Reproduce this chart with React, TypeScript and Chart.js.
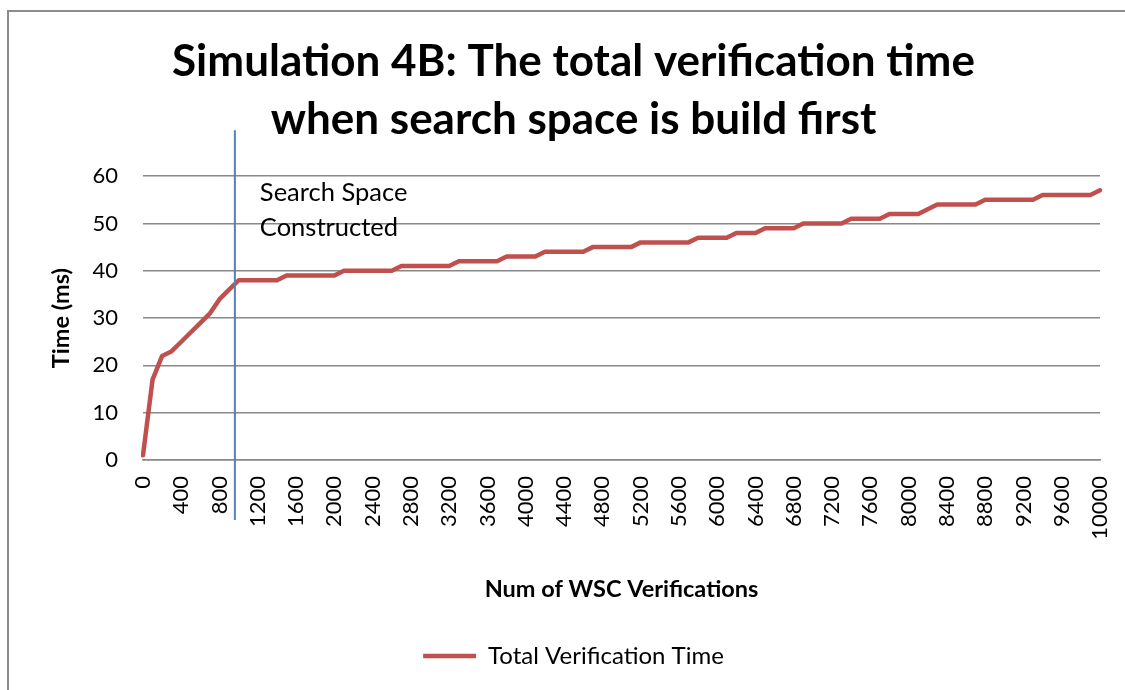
import React, { useEffect, useRef } from 'react';
import { Chart, registerables } from 'chart.js';

Chart.register(...registerables);

const TITLE_LINES = ['Simulation 4B: The total verification time', 'when search space is build first'];
const Y_TITLE = 'Time (ms)';
const X_TITLE = 'Num of WSC Verifications';
const SERIES_LABEL = 'Total Verification Time';
const ANNOTATION_LINES = ['Search Space', 'Constructed'];

// Total verification time (ms) at each 100-verification step, 0..10000
const timeValues = [
  1, 17, 22, 23, 25, 27, 29, 31, 34, 36,
  38, 38, 38, 38, 38,
  39, 39, 39, 39, 39, 39,
  40, 40, 40, 40, 40, 40,
  41, 41, 41, 41, 41, 41,
  42, 42, 42, 42, 42,
  43, 43, 43, 43,
  44, 44, 44, 44, 44,
  45, 45, 45, 45, 45,
  46, 46, 46, 46, 46, 46,
  47, 47, 47, 47,
  48, 48, 48,
  49, 49, 49, 49,
  50, 50, 50, 50, 50,
  51, 51, 51, 51,
  52, 52, 52, 52,
  53,
  54, 54, 54, 54, 54,
  55, 55, 55, 55, 55, 55,
  56, 56, 56, 56, 56, 56,
  57,
];

const categoryStep = 100;
const categories = timeValues.map((_, i) => String(i * categoryStep));
const labelEvery = 4;
const yTicks = [0, 10, 20, 30, 40, 50, 60];
// category position (fractional index) of the "search space constructed" marker
const markerCategory = 9.6;

const FONT = "Lato, 'Open Sans', 'DejaVu Sans', sans-serif";
const RED = '#C0504D';
const BLUE = '#4F81BD';
const GRID = '#888888';

const framePlugin = {
  id: 'frame',
  beforeDraw(chart: any) {
    const ctx = chart.ctx;
    ctx.save();
    ctx.fillStyle = '#ffffff';
    ctx.fillRect(0, 0, chart.width, chart.height);
    ctx.strokeStyle = '#8c8c8c';
    ctx.lineWidth = 2;
    ctx.beginPath();
    ctx.moveTo(8, chart.height);
    ctx.lineTo(8, 11);
    ctx.lineTo(chart.width, 11);
    ctx.stroke();
    ctx.restore();
  },
};

const markerPlugin = {
  id: 'marker',
  afterDatasetsDraw(chart: any) {
    const ctx = chart.ctx;
    const xs = chart.scales.x;
    const area = chart.chartArea;
    const px = xs.getPixelForValue(markerCategory);
    ctx.save();
    ctx.strokeStyle = BLUE;
    ctx.lineWidth = 2;
    ctx.beginPath();
    ctx.moveTo(px, area.top - 46);
    ctx.lineTo(px, area.bottom + 60);
    ctx.stroke();
    ctx.fillStyle = '#000';
    ctx.font = `25.5px ${FONT}`;
    ctx.textBaseline = 'middle';
    ctx.textAlign = 'left';
    ANNOTATION_LINES.forEach((t, i) => {
      ctx.fillText(t, px + 25, area.top + 17 + i * 35);
    });
    ctx.restore();
  },
};

export default function App() {
  const ref = useRef<HTMLCanvasElement | null>(null);
  useEffect(() => {
    if (!ref.current) return;
    Chart.defaults.font.family = FONT;
    const chart = new Chart(ref.current, {
      type: 'line',
      data: {
        labels: categories,
        datasets: [
          {
            label: SERIES_LABEL,
            data: timeValues,
            borderColor: RED,
            backgroundColor: RED,
            borderWidth: 4.5,
            pointRadius: 0,
            tension: 0,
            borderJoinStyle: 'round',
            borderCapStyle: 'round',
            fill: false,
          },
        ],
      },
      options: {
        responsive: false,
        animation: false,
        layout: { padding: { left: 47, right: 25, top: 0, bottom: 12 } },
        plugins: {
          title: {
            display: true,
            text: TITLE_LINES,
            color: '#000',
            font: { size: 44, weight: 'bold', lineHeight: 1.32 },
            padding: { top: 33, bottom: 27 },
          },
          legend: {
            position: 'bottom',
            labels: {
              color: '#000',
              font: { size: 24 },
              usePointStyle: true,
              pointStyle: 'line',
              pointStyleWidth: 53,
              padding: 8,
            },
          },
          tooltip: { enabled: false },
        },
        scales: {
          x: {
            type: 'category',
            offset: false,
            grid: { display: false },
            border: { display: true, color: GRID, width: 1.5 },
            ticks: {
              autoSkip: false,
              maxRotation: 90,
              minRotation: 90,
              padding: 8,
              color: '#000',
              font: { size: 22 },
              callback: (_v: any, i: number) => (i % labelEvery === 0 ? categories[i] : null),
            },
            title: {
              display: true,
              text: X_TITLE,
              color: '#000',
              font: { size: 23.5, weight: 'bold' },
              padding: { top: 4, bottom: 32 },
            },
            afterFit: (s: any) => {
              s.height = 176;
              s.paddingRight = 0;
              s.paddingLeft = 0;
            },
          },
          y: {
            min: 0,
            max: 60,
            afterBuildTicks: (s: any) => {
              s.ticks = yTicks.map((v) => ({ value: v }));
            },
            ticks: { padding: 25, color: '#000', font: { size: 22 } },
            grid: { color: GRID, lineWidth: 1.5, drawTicks: false },
            border: { display: false },
            title: {
              display: true,
              text: Y_TITLE,
              color: '#000',
              font: { size: 23.5, weight: 'bold' },
              padding: { top: 0, bottom: 0 },
            },
            afterFit: (s: any) => {
              s.width = 96;
            },
          },
        },
      } as any,
      plugins: [framePlugin, markerPlugin],
    });
    return () => chart.destroy();
  }, []);
  return (
    <div style={{ position: 'fixed', left: 0, top: 0, width: 1125, height: 690, background: '#fff' }}>
      <canvas ref={ref} width={1125} height={690} />
    </div>
  );
}
